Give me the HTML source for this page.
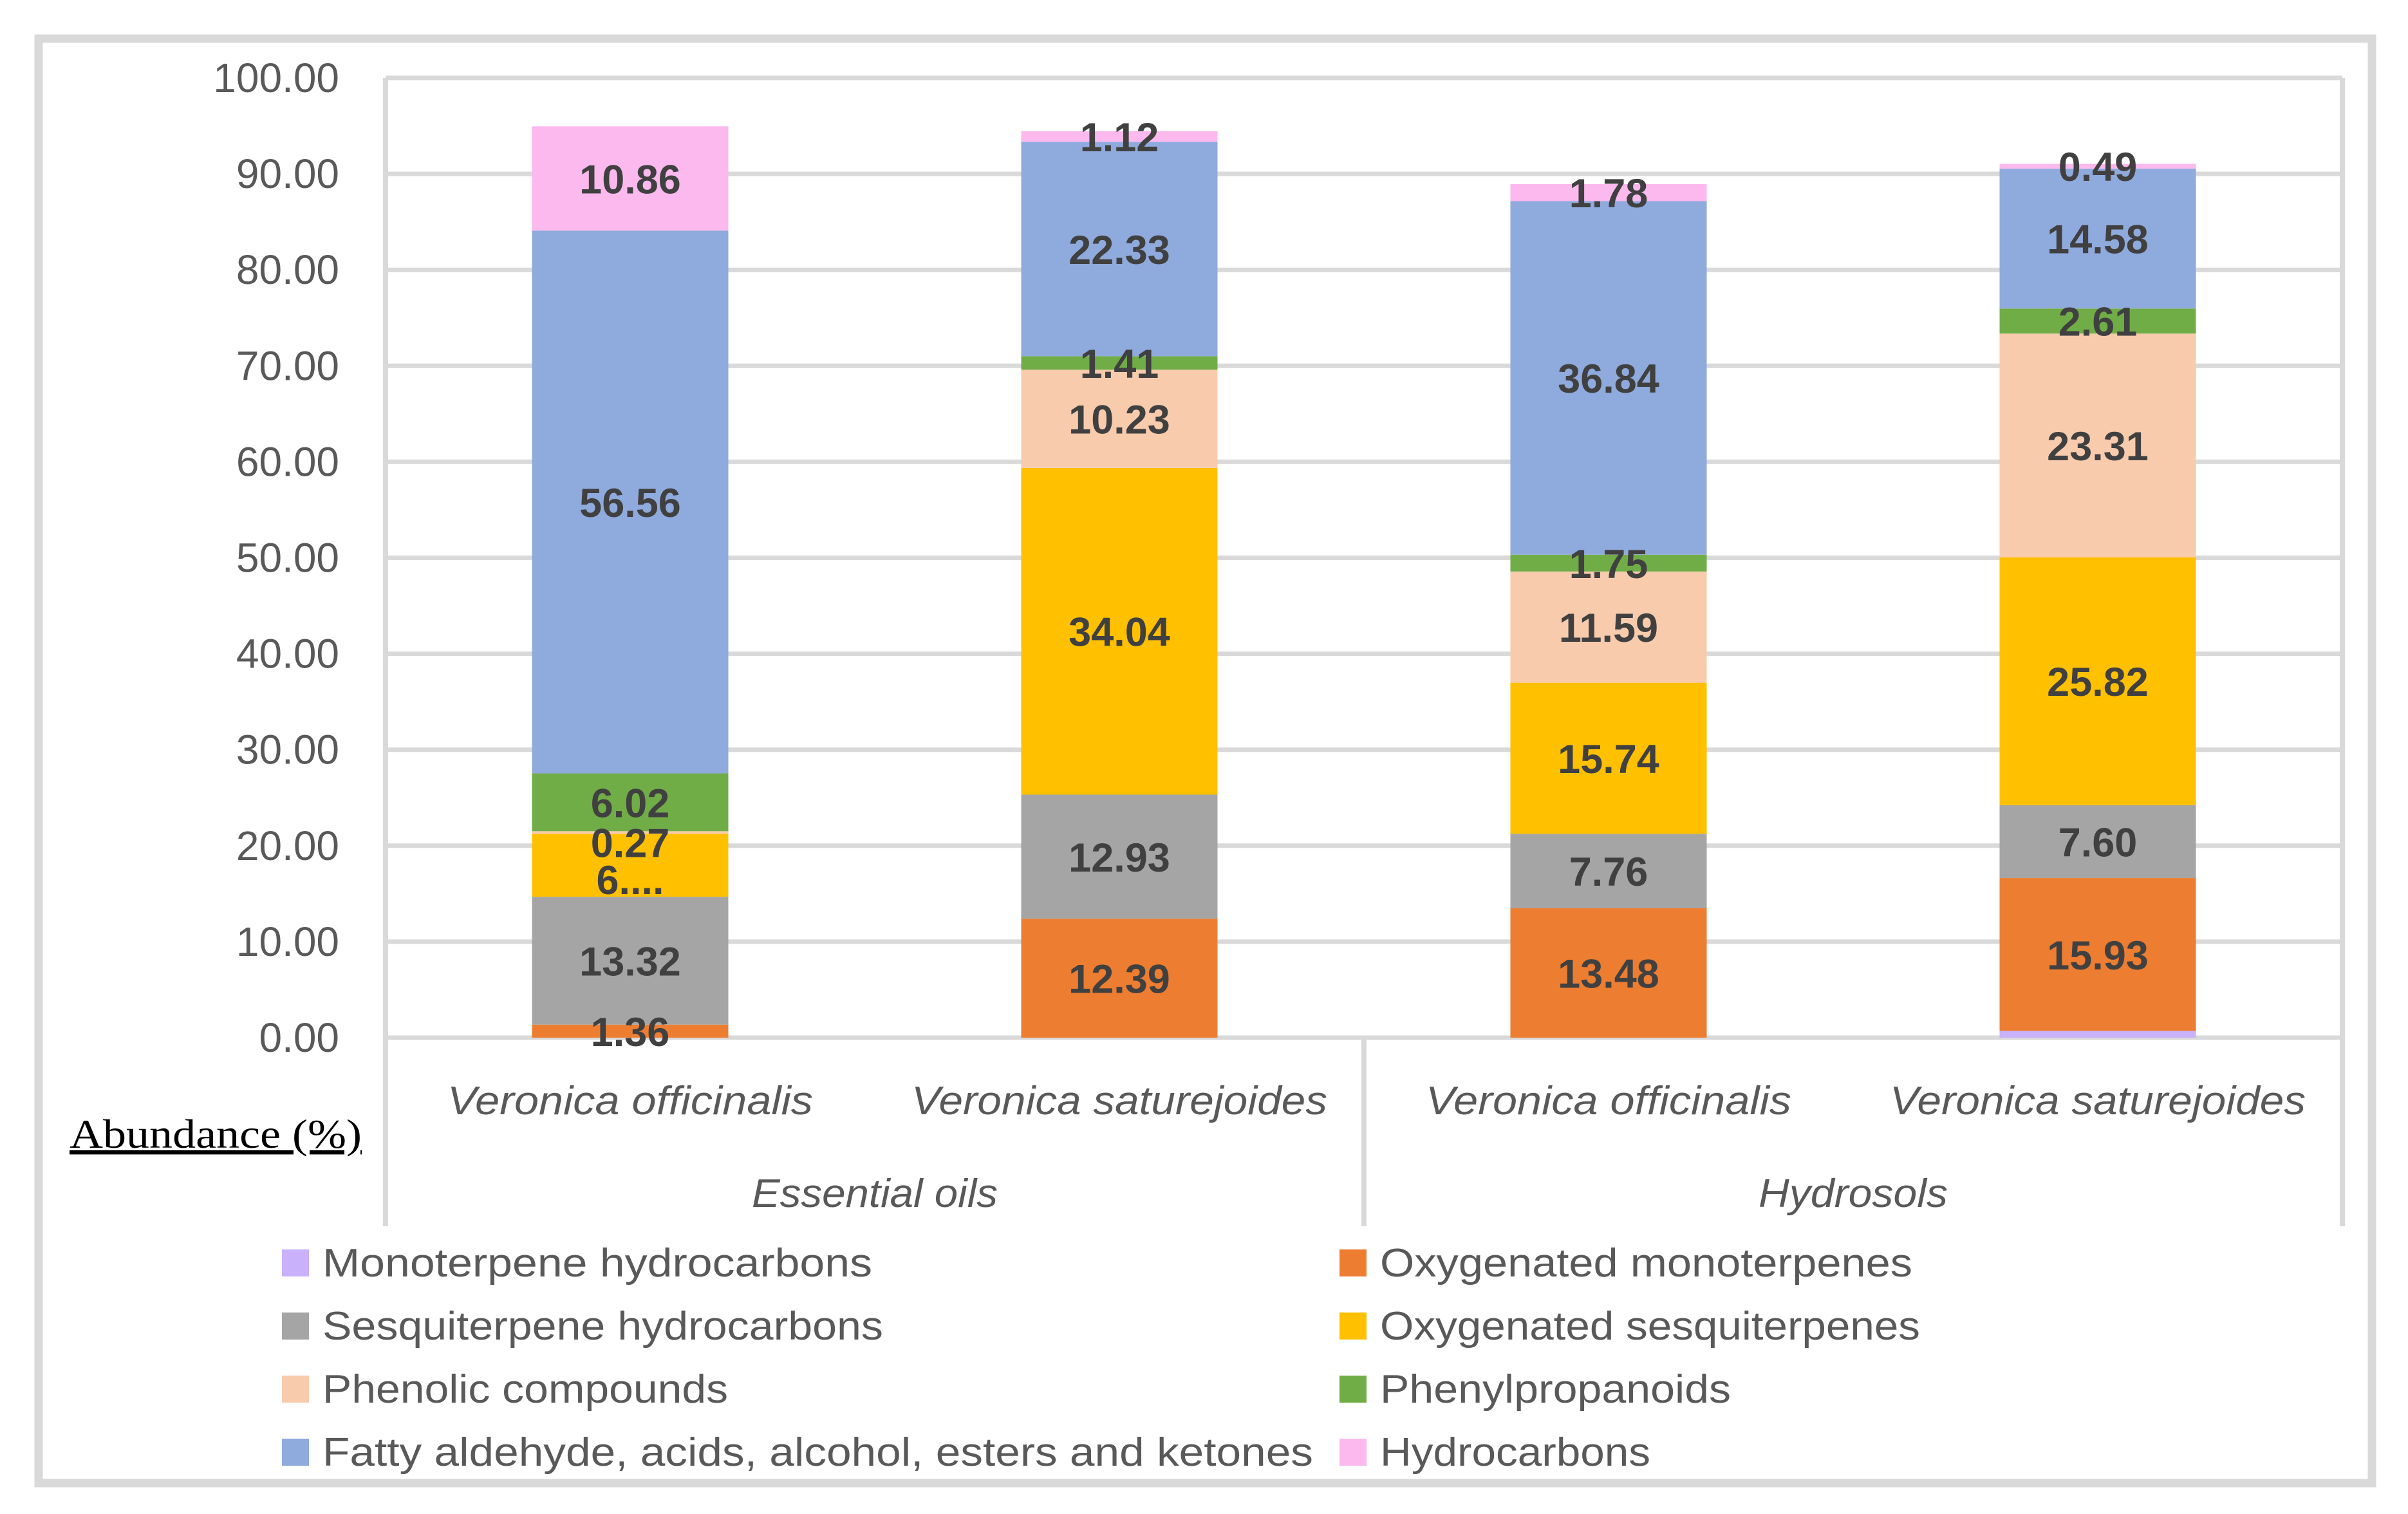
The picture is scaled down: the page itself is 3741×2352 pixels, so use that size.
<!DOCTYPE html>
<html><head><meta charset="utf-8">
<style>html,body{margin:0;padding:0;background:#fff;}svg{display:block;}</style>
</head><body>
<svg id="chart" width="3741" height="2352" viewBox="0 0 3741 2352" xmlns="http://www.w3.org/2000/svg" font-family="Liberation Sans, sans-serif">
<rect x="60" y="60" width="3625" height="2244" fill="#fff" stroke="#d9d9d9" stroke-width="13"/>
<g id="grid"></g>
<g id="bars"></g>
<g id="labels"></g>
<g id="axes"></g>
<g id="legend"></g>
<text x="108" y="1783" font-family="Liberation Serif, serif" font-size="64" fill="#000" text-decoration="underline" textLength="454" lengthAdjust="spacingAndGlyphs">Abundance (%)</text>
</svg>
<script>
const categories = ["Veronica officinalis","Veronica saturejoides","Veronica officinalis","Veronica saturejoides"];
const groups = ["Essential oils","Hydrosols"];
const seriesNames = ["Monoterpene hydrocarbons","Oxygenated monoterpenes","Sesquiterpene hydrocarbons","Oxygenated sesquiterpenes","Phenolic compounds","Phenylpropanoids","Fatty aldehyde,  acids, alcohol,  esters and ketones","Hydrocarbons"];
const monoterpene = [0, 0, 0, 0.7];
const oxyMono = [1.36, 12.39, 13.48, 15.93];
const sesqui = [13.32, 12.93, 7.76, 7.60];
const oxySesqui = [6.56, 34.04, 15.74, 25.82];
const phenolic = [0.27, 10.23, 11.59, 23.31];
const phenylprop = [6.02, 1.41, 1.75, 2.61];
const fatty = [56.56, 22.33, 36.84, 14.58];
const hydrocarbons = [10.86, 1.12, 1.78, 0.49];
const yTicks = [0,10,20,30,40,50,60,70,80,90,100];

const series = [monoterpene, oxyMono, sesqui, oxySesqui, phenolic, phenylprop, fatty, hydrocarbons];
const colors = ["#c9b1fb","#ed7d31","#a5a5a5","#ffc000","#f8cbad","#70ad47","#8faadc","#fbb9ee"];
const NS = "http://www.w3.org/2000/svg";
const X0 = 599, X1 = 3639, Y0 = 1612, Y100 = 121, BW = 305;
const y = v => Y0 - (v/100)*(Y0-Y100);
const xc = i => X0 + (X1-X0)/categories.length*(i+0.5);
function mk(tag, attrs, parent, text){
  const e = document.createElementNS(NS, tag);
  for (const k in attrs) e.setAttribute(k, attrs[k]);
  if (text !== undefined) e.textContent = text;
  parent.appendChild(e); return e;
}
const grid = document.getElementById('grid');
yTicks.forEach(t => {
  const l = mk('line', {x1:X0, x2:X1, y1:y(t), y2:y(t), stroke:'#d9d9d9', 'stroke-width':7}, grid);
  
  
  const tx = mk('text', {x:527, y:y(t)+22, 'text-anchor':'end', 'font-size':64, fill:'#595959'}, grid, t.toFixed(2));
  
  
});
const bars = document.getElementById('bars');
const labels = document.getElementById('labels');
categories.forEach((c, i) => {
  let base = 0;
  series.forEach((s, k) => {
    const v = s[i];
    const r = mk('rect', {x:xc(i)-BW/2, y:y(base+v), width:BW, height:y(base)-y(base+v), fill:colors[k]}, bars);
    
    
    if (k > 0 && v > 0) {
      let txt = v.toFixed(2);
      let dy = 0;
      if (i === 0 && k === 3) { txt = '6....'; dy = 22; }
      if (i === 0 && k === 4) { dy = 15; }
      const t = mk('text', {x:xc(i), y:y(base+v/2)+23+dy, 'text-anchor':'middle', 'font-size':63, 'font-weight':'bold', fill:'#404040'}, labels, txt);
      
      
    }
    base += v;
  });
});
const axes = document.getElementById('axes');
[[X0,Y100,X0,1905],[X1,Y100,X1,1905],[(X0+X1)/2,Y0,(X0+X1)/2,1905]].forEach(p => {
  const l = mk('line', {x1:p[0], y1:p[1], x2:p[2], y2:p[3], stroke:'#d9d9d9', 'stroke-width':8}, axes);
  
  
});
const catW = [568, 646, 568, 646];
categories.forEach((c, i) => {
  const t = mk('text', {x:xc(i), y:1731, 'text-anchor':'middle', 'font-size':62, 'font-style':'italic', fill:'#595959', textLength:catW[i], lengthAdjust:'spacingAndGlyphs'}, axes, c);
  
  
});
const grpW = [382, 294];
groups.forEach((g, j) => {
  const cx = X0 + (X1-X0)/groups.length*(j+0.5);
  const t = mk('text', {x:cx, y:1875, 'text-anchor':'middle', 'font-size':62, 'font-style':'italic', fill:'#595959', textLength:grpW[j], lengthAdjust:'spacingAndGlyphs'}, axes, g);
  
  
});
const legend = document.getElementById('legend');
const legW = [854, 827, 871, 839, 630, 545, 1539, 420];
seriesNames.forEach((n, k) => {
  const col = k % 2, row = Math.floor(k/2);
  const sx = col === 0 ? 438 : 2081;
  const ty = 1983 + row*98;
  const sq = mk('rect', {x:sx, y:ty-42, width:42, height:42, fill:colors[k]}, legend);
  
  
  const t = mk('text', {x:sx+63, y:ty, 'font-size':62, fill:'#595959', textLength:legW[k], lengthAdjust:'spacingAndGlyphs'}, legend, n);
  
  
});
</script>
</body></html>
